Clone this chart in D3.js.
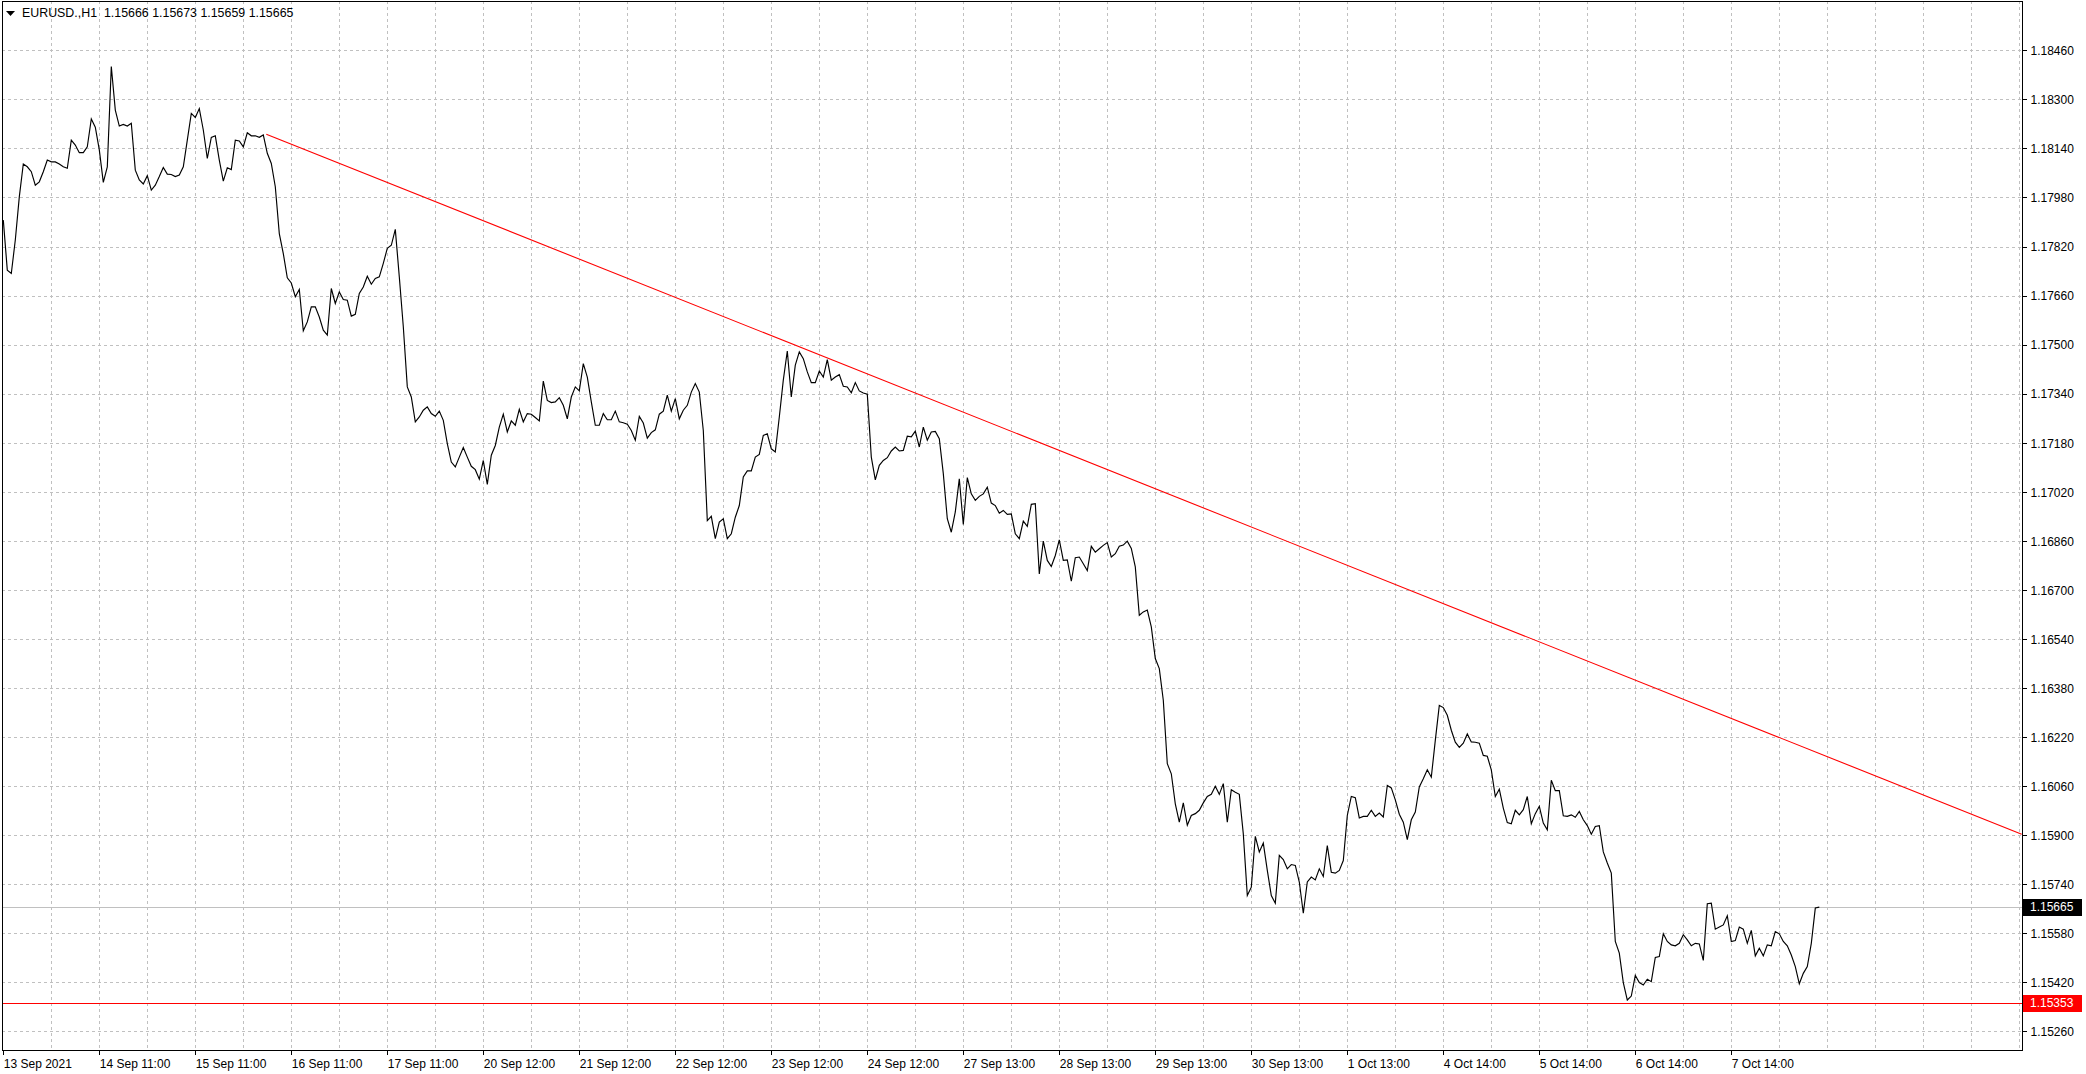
<!DOCTYPE html>
<html><head><meta charset="utf-8">
<script src="https://cdn.jsdelivr.net/npm/d3@7"></script>
<style>
html,body{margin:0;padding:0;background:#fff;overflow:hidden;}
svg{display:block;font-family:"Liberation Sans",Arial,sans-serif;}
</style></head><body>
<svg id="chart" width="2086" height="1074"></svg>
<script>
// ---------- data ----------
const symbolLabel = "EURUSD.,H1";
const ohlc = [1.15666, 1.15673, 1.15659, 1.15665];

const timeLabels = ["13 Sep 2021","14 Sep 11:00","15 Sep 11:00","16 Sep 11:00","17 Sep 11:00",
  "20 Sep 12:00","21 Sep 12:00","22 Sep 12:00","23 Sep 12:00","24 Sep 12:00",
  "27 Sep 13:00","28 Sep 13:00","29 Sep 13:00","30 Sep 13:00","1 Oct 13:00",
  "4 Oct 14:00","5 Oct 14:00","6 Oct 14:00","7 Oct 14:00"];
const timeLabelBars = [0,24,48,72,96,120,144,168,192,216,240,264,288,312,336,360,384,408,432];

const priceTicks = [1.18460,1.18300,1.18140,1.17980,1.17820,1.17660,1.17500,1.17340,1.17180,
  1.17020,1.16860,1.16700,1.16540,1.16380,1.16220,1.16060,1.15900,1.15740,1.15580,1.15420,1.15260];

const closes = [
1.17906,1.17743,1.17732,1.17841,1.17982,1.18089,1.18080,1.18064,1.18020,1.18031,
1.18064,1.18102,1.18096,1.18096,1.18089,1.18080,1.18075,1.18167,1.18151,1.18126,
1.18126,1.18145,1.18236,1.18209,1.18135,1.18029,1.18080,1.18407,1.18265,1.18213,
1.18218,1.18213,1.18222,1.18069,1.18037,1.18024,1.18051,1.18004,1.18020,1.18048,
1.18078,1.18056,1.18055,1.18048,1.18053,1.18080,1.18167,1.18254,1.18241,1.18270,
1.18200,1.18107,1.18176,1.18181,1.18102,1.18033,1.18077,1.18071,1.18167,1.18164,
1.18145,1.18191,1.18181,1.18181,1.18176,1.18184,1.18124,1.18091,1.18015,1.17862,
1.17797,1.17718,1.17701,1.17656,1.17680,1.17545,1.17574,1.17623,1.17623,1.17590,
1.17547,1.17531,1.17683,1.17634,1.17672,1.17647,1.17645,1.17593,1.17599,1.17667,
1.17688,1.17723,1.17697,1.17716,1.17721,1.17765,1.17814,1.17824,1.17876,1.17721,
1.17558,1.17362,1.17329,1.17248,1.17264,1.17286,1.17297,1.17275,1.17266,1.17283,
1.17253,1.17177,1.17117,1.17101,1.17133,1.17164,1.17133,1.17103,1.17092,1.17061,
1.17122,1.17044,1.17139,1.17171,1.17231,1.17273,1.17215,1.17251,1.17237,1.17289,
1.17248,1.17275,1.17273,1.17262,1.17251,1.17381,1.17318,1.17311,1.17313,1.17327,
1.17302,1.17258,1.17329,1.17362,1.17349,1.17438,1.17394,1.17313,1.17237,1.17237,
1.17275,1.17255,1.17255,1.17283,1.17248,1.17245,1.17240,1.17220,1.17188,1.17266,
1.17244,1.17195,1.17213,1.17222,1.17273,1.17283,1.17335,1.17283,1.17324,1.17258,
1.17286,1.17302,1.17345,1.17373,1.17345,1.17220,1.16926,1.16940,1.16867,1.16921,
1.16932,1.16867,1.16883,1.16937,1.16975,1.17068,1.17088,1.17088,1.17133,1.17142,
1.17204,1.17209,1.17160,1.17150,1.17264,1.17384,1.17479,1.17329,1.17433,1.17476,
1.17454,1.17411,1.17376,1.17376,1.17414,1.17394,1.17451,1.17384,1.17394,1.17402,
1.17364,1.17362,1.17343,1.17376,1.17349,1.17342,1.17338,1.17133,1.17059,1.17106,
1.17122,1.17131,1.17153,1.17166,1.17153,1.17155,1.17201,1.17199,1.17218,1.17166,
1.17231,1.17188,1.17215,1.17217,1.17193,1.17079,1.16932,1.16888,1.16954,1.17062,
1.16913,1.17066,1.17013,1.16992,1.17005,1.17013,1.17035,1.16983,1.16975,1.16950,
1.16959,1.16946,1.16948,1.16883,1.16867,1.16924,1.16907,1.16979,1.16981,1.16752,
1.16859,1.16796,1.16776,1.16812,1.16863,1.16796,1.16798,1.16728,1.16805,1.16807,
1.16785,1.16763,1.16842,1.16823,1.16834,1.16845,1.16854,1.16807,1.16818,1.16842,
1.16846,1.16859,1.16835,1.16775,1.16617,1.16628,1.16634,1.16579,1.16476,1.16443,
1.16340,1.16133,1.16100,1.16002,1.15942,1.16005,1.15932,1.15964,1.15970,1.15981,
1.16005,1.16026,1.16033,1.16059,1.16033,1.16068,1.15942,1.16048,1.16040,1.16033,
1.15904,1.15703,1.15730,1.15896,1.15845,1.15874,1.15785,1.15703,1.15678,1.15834,
1.15820,1.15790,1.15804,1.15801,1.15747,1.15645,1.15747,1.15763,1.15754,1.15790,
1.15765,1.15866,1.15779,1.15776,1.15785,1.15817,1.15964,1.16026,1.16022,1.15956,
1.15961,1.15961,1.15981,1.15961,1.15972,1.15959,1.16062,1.16054,1.16015,1.15968,
1.15942,1.15885,1.15950,1.15975,1.16057,1.16084,1.16113,1.16089,1.16209,1.16323,
1.16316,1.16291,1.16242,1.16203,1.16186,1.16200,1.16230,1.16204,1.16203,1.16200,
1.16160,1.16157,1.16113,1.16026,1.16050,1.15988,1.15941,1.15937,1.15981,1.15966,
1.15983,1.16026,1.15937,1.15970,1.15994,1.15939,1.15917,1.16079,1.16045,1.16045,
1.15963,1.15961,1.15966,1.15958,1.15977,1.15950,1.15931,1.15903,1.15928,1.15931,
1.15845,1.15809,1.15776,1.15553,1.15515,1.15419,1.15362,1.15375,1.15442,1.15419,
1.15411,1.15430,1.15422,1.15501,1.15504,1.15578,1.15553,1.15542,1.15539,1.15547,
1.15575,1.15558,1.15539,1.15547,1.15545,1.15491,1.15676,1.15678,1.15593,1.15600,
1.15607,1.15637,1.15553,1.15556,1.15600,1.15593,1.15547,1.15589,1.15506,1.15531,
1.15506,1.15542,1.15539,1.15585,1.15578,1.15553,1.15539,1.15509,1.15471,1.15415,
1.15449,1.15471,1.15547,1.15662,1.15665];

const currentPrice = 1.15665;
const supportLevel = 1.15353;
const trendStart = {bar: 65.75, price: 1.18186};
const trendEnd   = {bar: 504.6, price: 1.15903};

// ---------- layout ----------
const W = 2086, H = 1074;
const plot = {left: 2, top: 1, right: 2022, bottom: 1050};
const gridColor = "#c0c0c0";

const svg = d3.select("#chart");
svg.append("rect").attr("width", W).attr("height", H).attr("fill", "#fff");

const x = d3.scaleLinear().domain([0, 504]).range([3.3, 2019.3]);
const y = d3.scaleLinear().domain([1.15260, 1.18460]).range([1031.3, 50.3]);

svg.append("clipPath").attr("id", "clip").append("rect")
  .attr("x", plot.left).attr("y", plot.top)
  .attr("width", plot.right - plot.left).attr("height", plot.bottom - plot.top);

const g = svg.append("g").attr("clip-path", "url(#clip)");

// grid
const vBars = d3.range(12, 505, 12);
g.append("g").selectAll("line").data(vBars).join("line")
  .attr("x1", d => Math.round(x(d)) + 0.5).attr("x2", d => Math.round(x(d)) + 0.5)
  .attr("y1", plot.top).attr("y2", plot.bottom)
  .attr("stroke", gridColor).attr("stroke-width", 1).attr("stroke-dasharray", "3,3")
  .attr("shape-rendering", "crispEdges");
g.append("g").selectAll("line").data(priceTicks).join("line")
  .attr("x1", plot.left).attr("x2", plot.right)
  .attr("y1", d => Math.round(y(d)) + 0.5).attr("y2", d => Math.round(y(d)) + 0.5)
  .attr("stroke", gridColor).attr("stroke-width", 1).attr("stroke-dasharray", "3,3")
  .attr("shape-rendering", "crispEdges");

// current price line
g.append("line")
  .attr("x1", plot.left).attr("x2", plot.right)
  .attr("y1", Math.round(y(currentPrice)) + 0.5).attr("y2", Math.round(y(currentPrice)) + 0.5)
  .attr("stroke", "#c0c0c0").attr("stroke-width", 1).attr("shape-rendering", "crispEdges");

// support line
g.append("line")
  .attr("x1", plot.left).attr("x2", plot.right)
  .attr("y1", Math.round(y(supportLevel)) + 0.5).attr("y2", Math.round(y(supportLevel)) + 0.5)
  .attr("stroke", "#ff0000").attr("stroke-width", 1).attr("shape-rendering", "crispEdges");

// trend line
g.append("line")
  .attr("x1", x(trendStart.bar)).attr("y1", y(trendStart.price))
  .attr("x2", x(trendEnd.bar)).attr("y2", y(trendEnd.price))
  .attr("stroke", "#ff0000").attr("stroke-width", 1.1);

// price line
const line = d3.line().x((d, i) => x(i)).y(d => y(d));
g.append("path").datum(closes)
  .attr("d", line).attr("fill", "none")
  .attr("stroke", "#000").attr("stroke-width", 1.15).attr("stroke-linejoin", "miter");

// frame
svg.append("rect")
  .attr("x", plot.left + 0.5).attr("y", plot.top + 0.5)
  .attr("width", plot.right - plot.left).attr("height", plot.bottom - plot.top)
  .attr("fill", "none").attr("stroke", "#000").attr("stroke-width", 1)
  .attr("shape-rendering", "crispEdges");

// right axis
const fmt = d3.format(".5f");
const yAxis = svg.append("g").attr("transform", `translate(${plot.right + 0.5},0)`)
  .call(d3.axisRight(y).tickValues(priceTicks).tickFormat(fmt).tickSize(4).tickPadding(4));
yAxis.select(".domain").remove();
yAxis.selectAll(".tick line").attr("stroke", "#000").attr("shape-rendering", "crispEdges");
yAxis.selectAll(".tick text").attr("font-size", 12).attr("fill", "#000")
  .attr("font-family", "'Liberation Sans', Arial, sans-serif").attr("dy", "0.36em");

// bottom axis
const xAxis = svg.append("g").attr("transform", `translate(0,${plot.bottom + 0.5})`)
  .call(d3.axisBottom(x).tickValues(timeLabelBars).tickFormat((d, i) => timeLabels[i]).tickSize(4).tickPadding(5));
xAxis.select(".domain").remove();
xAxis.selectAll(".tick line").attr("stroke", "#000").attr("shape-rendering", "crispEdges");
xAxis.selectAll(".tick text").attr("font-size", 12).attr("fill", "#000")
  .attr("font-family", "'Liberation Sans', Arial, sans-serif")
  .attr("text-anchor", "start").attr("x", 0);

// price tags
function tag(price, bg) {
  const cy = y(price);
  svg.append("rect").attr("x", 2023).attr("y", Math.round(cy) - 8)
    .attr("width", 59).attr("height", 17).attr("fill", bg);
  svg.append("text").attr("x", 2030).attr("y", cy).attr("dy", "0.36em")
    .attr("font-size", 12).attr("fill", "#fff").text(fmt(price));
}
tag(currentPrice, "#000");
tag(supportLevel, "#ff0000");

// header
svg.append("path").attr("d", "M6,11 L15,11 L10.5,16 Z").attr("fill", "#000");
svg.append("text").attr("x", 22).attr("y", 17).attr("font-size", 12.4).attr("fill", "#000")
  .style("white-space", "pre")
  .text(symbolLabel + "  " + ohlc.map(fmt).join(" "));
</script>
</body></html>
